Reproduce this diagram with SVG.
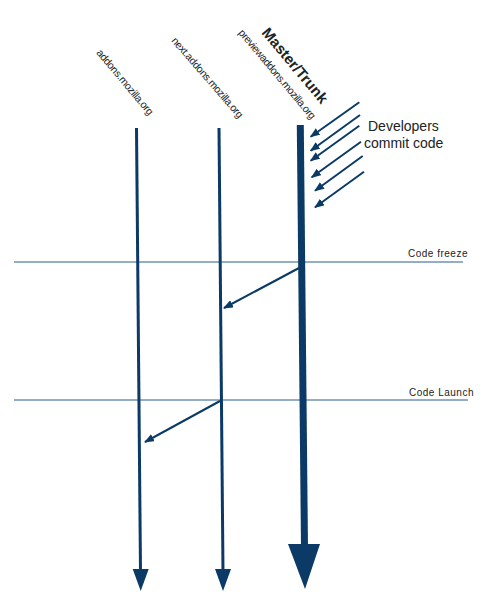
<svg xmlns="http://www.w3.org/2000/svg" width="485" height="599" viewBox="0 0 485 599">
<style>
.bg{fill:#ffffff}
.main{stroke:#0b3a66;fill:none}
.head{fill:#0b3a66}
.hline{stroke:#2d5c8a;stroke-width:1;fill:none}
.diag{stroke:#0b3a66;stroke-width:2;fill:none;marker-end:url(#ah)}
.lbl{font-family:"Liberation Sans",Arial,sans-serif;fill:#222}
.site{font-size:10.5px;letter-spacing:-0.35px}
</style>
<defs>
<marker id="ah" markerWidth="5" markerHeight="4" refX="4.5" refY="2" orient="auto" markerUnits="strokeWidth">
<path d="M0,0 L5,2 L0,4 Z" fill="#0b3a66"/>
</marker>
</defs>
<rect class="bg" x="0" y="0" width="485" height="599"/>
<g id="connectors">
<line class="hline" x1="14" y1="262" x2="463" y2="262"/>
<line class="hline" x1="14" y1="400" x2="468" y2="400"/>
<line class="main" stroke-width="3" x1="136.5" y1="128" x2="140.5" y2="572"/>
<polygon class="head" points="132.7,569 148.7,569 140.7,591"/>
<line class="main" stroke-width="3" x1="219" y1="128" x2="223" y2="572"/>
<polygon class="head" points="215,569 231,569 223,591"/>
<line class="main" stroke-width="7" x1="300.3" y1="125" x2="304.5" y2="548"/>
<polygon class="head" points="288,544 320,544 305,589"/>
<line class="diag" x1="299" y1="268" x2="224" y2="308"/>
<line class="diag" x1="220" y1="401" x2="145" y2="442"/>
<line class="diag" x1="359.3" y1="102.3" x2="310.7" y2="136.7"/>
<line class="diag" x1="360" y1="115" x2="310.7" y2="150.7"/>
<line class="diag" x1="359.3" y1="125.7" x2="310.7" y2="160.7"/>
<line class="diag" x1="361" y1="141.7" x2="311.7" y2="177.3"/>
<line class="diag" x1="362.7" y1="156" x2="315" y2="190.7"/>
<line class="diag" x1="364" y1="171.7" x2="315" y2="207.3"/>
</g>
<g id="addons">
<text class="lbl site" transform="translate(96,53) rotate(50)">addons.mozilla.org</text>
</g>
<g id="next-addons">
<text class="lbl site" transform="translate(171,41) rotate(49)">next.addons.mozilla.org</text>
</g>
<g id="master-trunk">
<text class="lbl" font-size="15" font-weight="bold" fill="#111" transform="translate(261,33) rotate(50)">Master/Trunk</text>
<text class="lbl" font-size="10.5" letter-spacing="-0.45" transform="translate(238,33) rotate(50)">previewaddons.mozilla.org</text>
</g>
<g id="developers">
<text class="lbl" font-size="14" x="368" y="131">Developers</text>
<text class="lbl" font-size="14" x="364" y="148">commit code</text>
</g>
<g id="code-freeze">
<text class="lbl" font-size="10" letter-spacing="0.5" x="408" y="257">Code freeze</text>
</g>
<g id="code-launch">
<text class="lbl" font-size="10" letter-spacing="0.5" x="409" y="396">Code Launch</text>
</g>
</svg>
